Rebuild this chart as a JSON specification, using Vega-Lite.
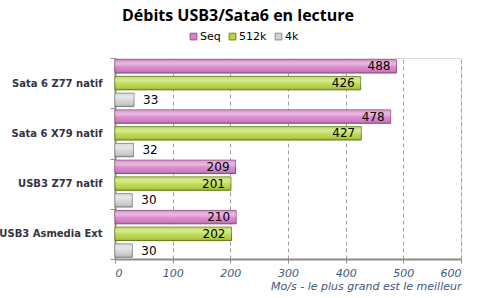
{
  "$schema": "https://vega.github.io/schema/vega-lite/v6.json",
  "width": 346,
  "height": 201,
  "autosize": {"type": "none"},
  "padding": {"left": 115, "top": 58, "right": 17, "bottom": 39},
  "background": "white",
  "title": {
    "text": "Débits USB3/Sata6 en lecture",
    "font": "Open Sans",
    "fontSize": 16,
    "fontWeight": "bold",
    "color": "#000000",
    "anchor": "middle",
    "dx": -50,
    "offset": 7
  },
  "data": {
    "values": [
      {"config": "Sata 6 Z77 natif", "serie": "Seq", "value": 488},
      {"config": "Sata 6 Z77 natif", "serie": "512k", "value": 426},
      {"config": "Sata 6 Z77 natif", "serie": "4k", "value": 33},
      {"config": "Sata 6 X79 natif", "serie": "Seq", "value": 478},
      {"config": "Sata 6 X79 natif", "serie": "512k", "value": 427},
      {"config": "Sata 6 X79 natif", "serie": "4k", "value": 32},
      {"config": "USB3 Z77 natif", "serie": "Seq", "value": 209},
      {"config": "USB3 Z77 natif", "serie": "512k", "value": 201},
      {"config": "USB3 Z77 natif", "serie": "4k", "value": 30},
      {"config": "USB3 Asmedia Ext", "serie": "Seq", "value": 210},
      {"config": "USB3 Asmedia Ext", "serie": "512k", "value": 202},
      {"config": "USB3 Asmedia Ext", "serie": "4k", "value": 30}
    ]
  },
  "encoding": {
    "y": {
      "field": "config",
      "type": "nominal",
      "sort": ["Sata 6 Z77 natif", "Sata 6 X79 natif", "USB3 Z77 natif", "USB3 Asmedia Ext"],
      "scale": {"paddingInner": 0, "paddingOuter": 0},
      "axis": {
        "title": null,
        "labelFont": "DejaVu Sans",
        "labelFontSize": 10,
        "labelFontWeight": "bold",
        "labelColor": "#333344",
        "labelPadding": 8,
        "domainColor": "#8c8c8c",
        "domainWidth": 2,
        "tickColor": "#8c8c8c",
        "tickSize": 5,
        "tickWidth": 1,
        "tickBand": "extent",
        "grid": false
      }
    },
    "yOffset": {
      "field": "serie",
      "type": "nominal",
      "sort": ["Seq", "512k", "4k"],
      "scale": {"paddingInner": 0.2, "paddingOuter": 0.1}
    },
    "x": {
      "field": "value",
      "type": "quantitative",
      "scale": {"domain": [0, 600], "nice": false},
      "axis": {
        "values": [0, 100, 200, 300, 400, 500, 600],
        "title": "Mo/s - le plus grand est le meilleur",
        "titleFont": "DejaVu Sans",
        "titleFontSize": 11,
        "titleFontWeight": "normal",
        "titleFontStyle": "italic",
        "titleColor": "#3d5a80",
        "titleAnchor": "end",
        "titlePadding": 2,
        "labelFont": "DejaVu Sans",
        "labelFontSize": 11,
        "labelFontStyle": "italic",
        "labelColor": "#3d5a80",
        "labelPadding": 4,
        "domainColor": "#8c8c8c",
        "domainWidth": 2,
        "tickColor": "#8c8c8c",
        "tickSize": 4,
        "grid": true,
        "gridColor": "#a0a0a0",
        "gridDash": [4, 3],
        "gridWidth": 1
      }
    }
  },
  "layer": [
    {
      "mark": {"type": "bar", "strokeWidth": 1},
      "encoding": {
        "color": {
          "field": "serie",
          "type": "nominal",
          "sort": ["Seq", "512k", "4k"],
          "scale": {"domain": ["Seq", "512k", "4k"], "range": ["#d880c9", "#b8d842", "#d2d2d2"]},
          "legend": {
            "title": null,
            "orient": "none",
            "direction": "horizontal",
            "legendX": 73,
            "legendY": -27,
            "symbolType": "square",
            "symbolSize": 45,
            "symbolStrokeWidth": 1,
            "labelFont": "DejaVu Sans",
            "labelFontSize": 11,
            "labelColor": "#000000",
            "labelOffset": 1,
            "columnPadding": 6
          }
        },
        "stroke": {
          "field": "serie",
          "type": "nominal",
          "scale": {"domain": ["Seq", "512k", "4k"], "range": ["#95508a", "#6c8418", "#8a8a8a"]},
          "legend": null
        }
      }
    },
    {
      "mark": {
        "type": "bar",
        "fill": {
          "gradient": "linear",
          "x1": 0, "y1": 0, "x2": 0, "y2": 1,
          "stops": [
            {"offset": 0, "color": "rgba(255,255,255,0.15)"},
            {"offset": 0.3, "color": "rgba(255,255,255,0.45)"},
            {"offset": 0.6, "color": "rgba(255,255,255,0.05)"},
            {"offset": 1, "color": "rgba(0,0,0,0.18)"}
          ]
        },
        "stroke": null
      }
    },
    {
      "transform": [{"filter": "datum.serie !== '4k'"}],
      "mark": {"type": "text", "align": "right", "dx": -6, "font": "DejaVu Sans", "fontSize": 12, "color": "#000000"},
      "encoding": {"text": {"field": "value", "type": "quantitative"}}
    },
    {
      "transform": [{"filter": "datum.serie === '4k'"}],
      "mark": {"type": "text", "align": "left", "dx": 9, "font": "DejaVu Sans", "fontSize": 12, "color": "#000000"},
      "encoding": {"text": {"field": "value", "type": "quantitative"}}
    }
  ]
}
